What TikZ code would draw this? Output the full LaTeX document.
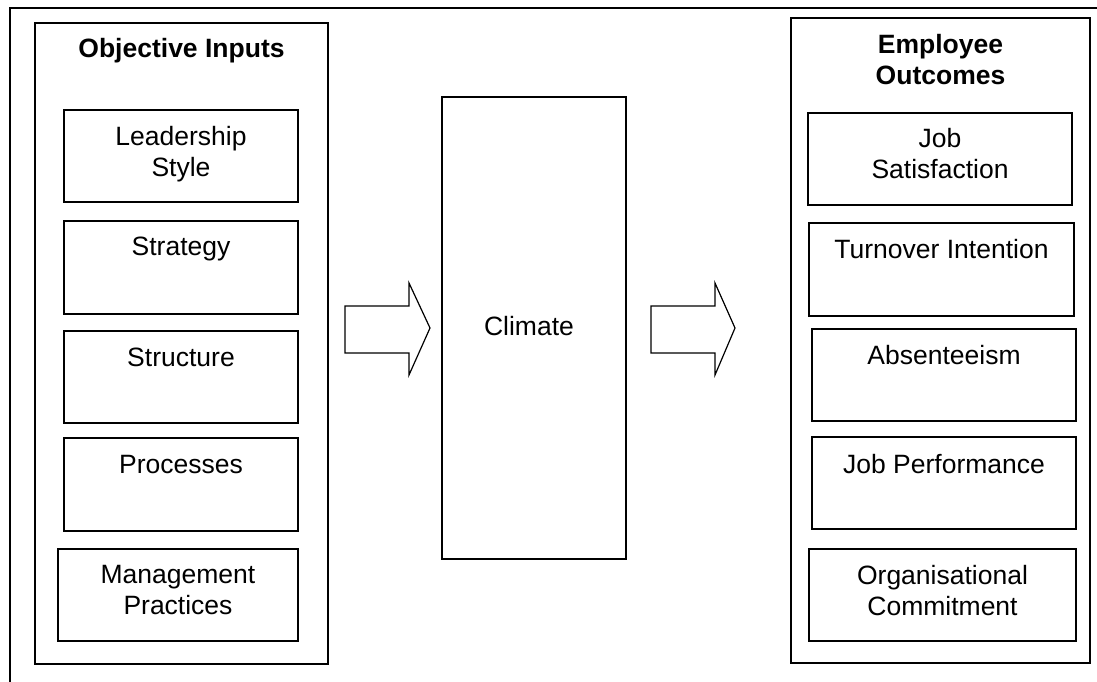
\documentclass[tikz,border=0pt]{standalone}
\usepackage{fontspec}
\setmainfont{Liberation Sans}
\begin{document}
\begin{tikzpicture}[x=1pt,y=-1pt,
  frame/.style={draw, line width=1.5pt},
  box/.style={draw, line width=1.5pt, inner sep=0pt, outer sep=0pt},
  lbl/.style={anchor=base, align=center, inner sep=0pt,
    font=\fontsize{26.5}{31}\selectfont},
  head/.style={lbl, font=\fontsize{26.5}{32}\selectfont\bfseries},
  blockarrow/.style={draw, line width=1.2pt, line join=miter, fill=white}]
\useasboundingbox (0,0) rectangle (1097,682);

% outer frame, open towards the right and bottom
\draw[frame] (10,700) -- (10,8) -- (1110,8);

% objective inputs (multi-line labels are placed by their last baseline)
\node[box, minimum width=293, minimum height=641] (inputs) at (181.5,343.5) {};
\node[head] (inputsT) at (181.5,58) {Objective Inputs};
\node[box, minimum width=234, minimum height=92] (lead) at (181,156) {};
\node[lbl] at (181,176) {Leadership\\Style};
\node[box, minimum width=234, minimum height=93] (strat) at (181,267.5) {};
\node[lbl] at (181,255) {Strategy};
\node[box, minimum width=234, minimum height=92] (struc) at (181,377) {};
\node[lbl] at (181,366) {Structure};
\node[box, minimum width=234, minimum height=93] (proc) at (181,484.5) {};
\node[lbl] at (181,473) {Processes};
\node[box, minimum width=240, minimum height=92] (mgmt) at (178,595) {};
\node[lbl] at (178,614) {Management\\Practices};

% climate
\node[box, line width=1.8pt, minimum width=184, minimum height=462] (climate) at (534,328) {};
\node[lbl] at (529,335) {Climate};

% employee outcomes
\node[box, minimum width=299, minimum height=645] (outcomes) at (940.5,340.5) {};
\node[head] (outcomesT) at (940.5,85) {Employee\\Outcomes};
\node[box, minimum width=264, minimum height=92] (jsat) at (940,159) {};
\node[lbl] at (940,178) {Job\\Satisfaction};
\node[box, minimum width=265, minimum height=93] (turn) at (941.5,269.5) {};
\node[lbl] at (941.5,258) {Turnover Intention};
\node[box, minimum width=264, minimum height=92] (absent) at (944,375) {};
\node[lbl] at (944,364) {Absenteeism};
\node[box, minimum width=264, minimum height=92] (jperf) at (944,483) {};
\node[lbl] at (944,473) {Job Performance};
\node[box, minimum width=267, minimum height=92] (commit) at (942.5,595) {};
\node[lbl] at (942.5,615) {Organisational\\Commitment};

% block arrows between the columns
\draw[blockarrow] (345,306) -- (409,306) -- (409,283) -- (430,328)
  -- (409,375) -- (409,353) -- (345,353) -- cycle;
\draw[blockarrow] (651,306) -- (715,306) -- (715,283) -- (735,328)
  -- (715,375) -- (715,353) -- (651,353) -- cycle;
\end{tikzpicture}
\end{document}
